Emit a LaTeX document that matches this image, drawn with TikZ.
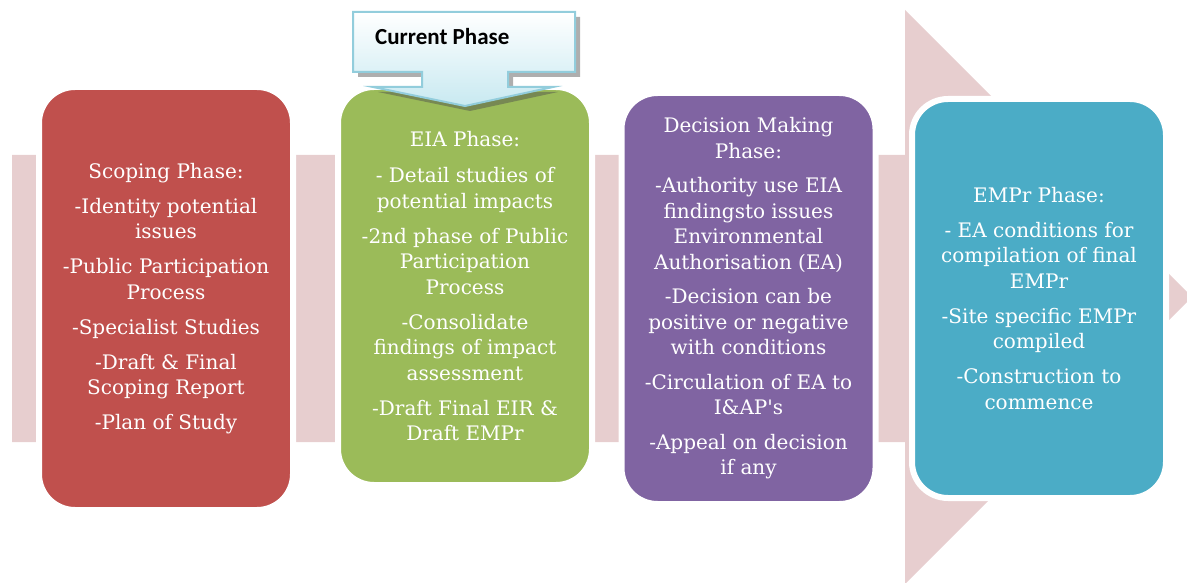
\documentclass[tikz,border=0pt]{standalone}
\usepackage{fontspec}
\setmainfont{DejaVu Serif}
\newfontfamily\calloutfont{Carlito}
\usetikzlibrary{shadows}

\definecolor{bandpink}{RGB}{231,206,207}
\definecolor{scopingred}{RGB}{192,80,77}
\definecolor{eiagreen}{RGB}{155,187,89}
\definecolor{decisionpurple}{RGB}{128,100,162}
\definecolor{emprteal}{RGB}{75,172,198}
\definecolor{calloutedge}{RGB}{146,205,220}
\definecolor{calloutfill}{RGB}{200,233,241}

\tikzset{
  phase/.style={rounded corners=36pt,draw=white,line width=6pt,text=white,align=center,
    minimum width=254pt,font=\fontsize{20}{25.5}\selectfont},
  callout/.style={draw=calloutedge,line width=2pt,top color=white,bottom color=calloutfill,
    drop shadow={shadow xshift=5pt,shadow yshift=-5pt,fill=black!70,opacity=0.45}}
}

\begin{document}
\begin{tikzpicture}[x=1pt,y=-1pt]
\clip (0,0) rectangle (1187,583);
\fill[bandpink] (12,155) -- (905,155) -- (905,10) -- (1192,297) -- (905,584) -- (905,442) -- (12,442) -- cycle;
\node[phase,fill=scopingred,minimum height=423pt] (scoping) at (166,298.5) {Scoping Phase:\\[9.5pt]-Identity potential\\issues\\[9.5pt]-Public Participation\\Process\\[9.5pt]-Specialist Studies\\[9.5pt]-Draft \& Final\\Scoping Report\\[9.5pt]-Plan of Study};
\node[phase,fill=eiagreen,minimum height=398pt] (eia) at (465,286) {EIA Phase:\\[11pt]- Detail studies of\\potential impacts\\[9.5pt]-2nd phase of Public\\Participation\\Process\\[9.5pt]-Consolidate\\findings of impact\\assessment\\[9.5pt]-Draft Final EIR \&\\Draft EMPr};
\node[phase,fill=decisionpurple,minimum height=411pt] (decision) at (748.5,298.5) {Decision Making\\Phase:\\[9pt]-Authority use EIA\\findingsto issues\\Environmental\\Authorisation (EA)\\[9pt]-Decision can be\\positive or negative\\with conditions\\[9pt]-Circulation of EA to\\I\&AP\textquotesingle s\\[9pt]-Appeal on decision\\if any};
\node[phase,fill=emprteal,minimum height=399pt] (empr) at (1039,298.5) {EMPr Phase:\\[9.5pt]- EA conditions for\\compilation of final\\EMPr\\[9.5pt]-Site specific EMPr\\compiled\\[9.5pt]-Construction to\\commence};
\draw[callout] (353,12) -- (575,12) -- (575,72) -- (508,72) -- (508,87) -- (553,87) -- (465,106) -- (373,87) -- (422,87) -- (422,72) -- (353,72) -- cycle;
\node[font=\calloutfont\bfseries\fontsize{23}{26}\selectfont,anchor=base west,inner sep=0pt] (current) at (375,45) {Current Phase};
\end{tikzpicture}
\end{document}
